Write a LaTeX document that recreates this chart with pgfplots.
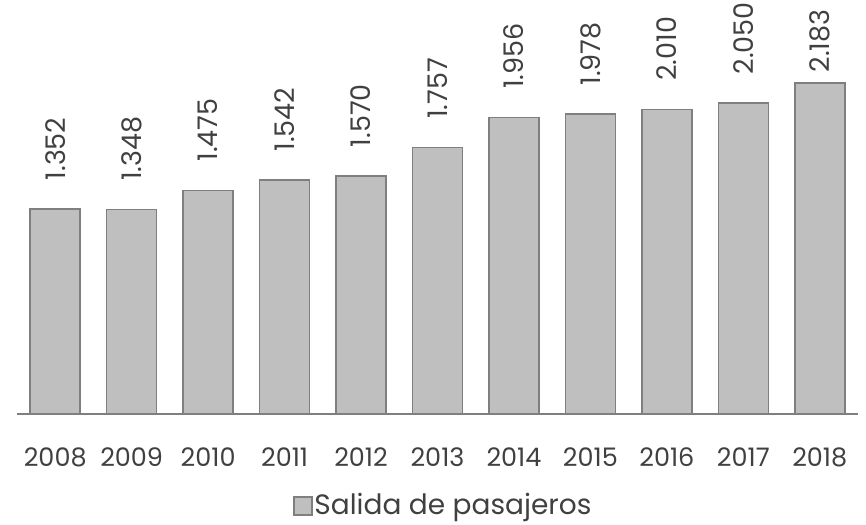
\documentclass[border=0pt]{standalone}
\usepackage{pgfplots}
\pgfplotsset{compat=1.18}
\usepackage{fontspec}
\setmainfont{Poppins}
\definecolor{txt}{HTML}{404040}
\definecolor{barfill}{HTML}{BFBFBF}
\definecolor{barline}{HTML}{7F7F7F}
\begin{document}
\begin{tikzpicture}
\path[use as bounding box] (0,0) rectangle (866bp,525bp);
\begin{axis}[
  at={(17bp,111bp)}, anchor=south west,
  scale only axis, width=841bp, height=379bp,
  xmin=-0.5, xmax=10.5, ymin=0, ymax=2500,
  axis x line=bottom, axis y line=none,
  axis line style={barline, line width=1.3bp, -},
  xtick={0,...,10},
  xticklabels={2008,2009,2010,2011,2012,2013,2014,2015,2016,2017,2018},
  tick style={draw=none},
  ticklabel style={font=\fontsize{25.5bp}{30bp}\selectfont, text=txt},
  xticklabel style={anchor=base, yshift=-48bp, inner sep=0pt},
  /pgf/number format/assume math mode=true,
  ybar, bar width=0.654, bar shift=0pt,
  clip=false,
  nodes near coords={\pgfmathprintnumber[1000 sep={.}]{\pgfplotspointmeta}},
  nodes near coords style={rotate=90, anchor=west, font=\fontsize{27bp}{32bp}\selectfont, text=txt, inner sep=0pt, xshift=28bp},
  legend style={at={(axis description cs:0,0)}, anchor=west, xshift=276bp, yshift=-91bp, draw=none, fill=none, font=\fontsize{28bp}{32bp}\selectfont, text=txt, inner sep=0pt},
  legend image code/.code={\draw[#1, draw=barline, fill=barfill, line width=1.3bp] (0bp,-10bp) rectangle (18bp,8bp);},
]
\addplot[fill=barfill, draw=barline, line width=1.5bp] coordinates {
(0,1352) (1,1348) (2,1475) (3,1542) (4,1570) (5,1757) (6,1956) (7,1978) (8,2010) (9,2050)
};
\addlegendentry{Salida de pasajeros}
\addplot[fill=barfill, draw=barline, line width=1.5bp, forget plot, nodes near coords style={xshift=-18bp}] coordinates {
(10,2183)
};
\end{axis}
\end{tikzpicture}
\end{document}
